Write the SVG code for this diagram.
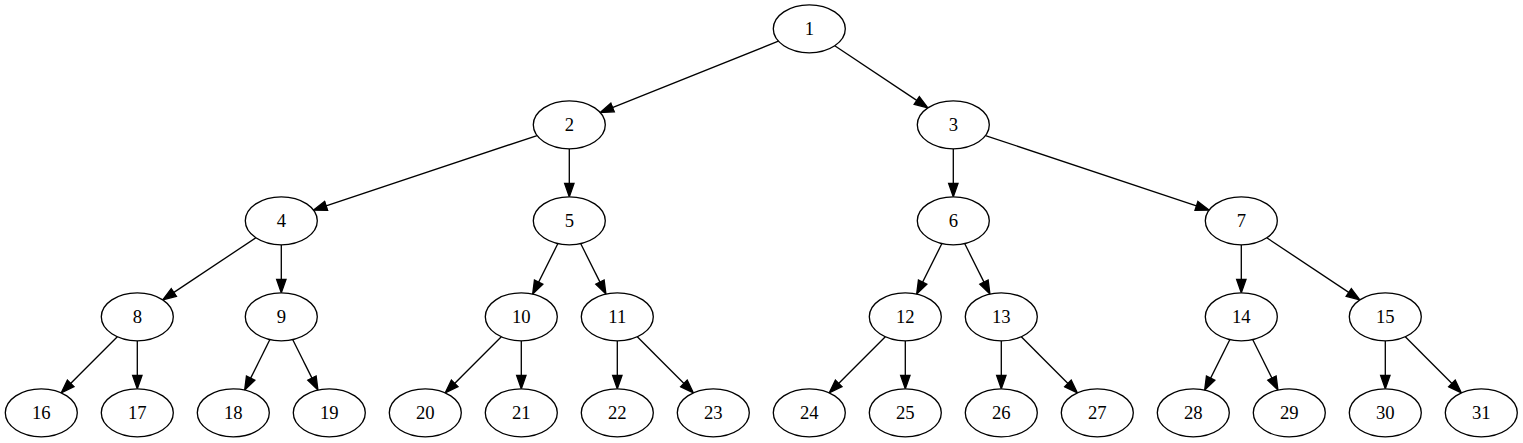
<svg xmlns="http://www.w3.org/2000/svg" width="1523" height="443" viewBox="0 0 1523 443">
<style>
.node ellipse{fill:#fff;stroke:#000;stroke-width:1.33}
.node text{font-family:"Liberation Serif","Times New Roman",serif;font-size:18.67px;text-anchor:middle;fill:#000}
#edges line{stroke:#000;stroke-width:1.33;fill:none;marker-end:url(#arr)}
</style>
<defs>
<marker id="arr" markerUnits="userSpaceOnUse" orient="auto" markerWidth="16" markerHeight="12" viewBox="0 -6 14 12" refX="10.33" refY="0">
<path d="M0,-4.67 L13.33,0 L0,4.67 z" fill="#000" stroke="#000" stroke-width="1.33"/>
</marker>
</defs>
<rect width="1523" height="443" fill="#fff"/>
<g id="edges">
<line x1="778.4" y1="41.16" x2="602.99" y2="111.33"/>
<line x1="834.76" y1="45.77" x2="925.34" y2="106.17"/>
<line x1="537.1" y1="135.53" x2="316.35" y2="209.12"/>
<line x1="569.3" y1="148.8" x2="569.3" y2="193.8"/>
<line x1="953.3" y1="148.8" x2="953.3" y2="193.8"/>
<line x1="985.5" y1="135.53" x2="1206.25" y2="209.12"/>
<line x1="255.84" y1="237.77" x2="165.26" y2="298.17"/>
<line x1="281.3" y1="244.8" x2="281.3" y2="289.8"/>
<line x1="557.92" y1="243.57" x2="534.02" y2="291.35"/>
<line x1="580.68" y1="243.57" x2="604.58" y2="291.35"/>
<line x1="941.92" y1="243.57" x2="918.02" y2="291.35"/>
<line x1="964.68" y1="243.57" x2="988.58" y2="291.35"/>
<line x1="1241.3" y1="244.8" x2="1241.3" y2="289.8"/>
<line x1="1266.76" y1="237.77" x2="1357.34" y2="298.17"/>
<line x1="117.33" y1="336.77" x2="63.39" y2="390.71"/>
<line x1="137.3" y1="340.8" x2="137.3" y2="385.8"/>
<line x1="269.92" y1="339.57" x2="246.02" y2="387.35"/>
<line x1="292.68" y1="339.57" x2="316.58" y2="387.35"/>
<line x1="501.33" y1="336.77" x2="447.39" y2="390.71"/>
<line x1="521.3" y1="340.8" x2="521.3" y2="385.8"/>
<line x1="617.3" y1="340.8" x2="617.3" y2="385.8"/>
<line x1="637.27" y1="336.77" x2="691.21" y2="390.71"/>
<line x1="885.33" y1="336.77" x2="831.39" y2="390.71"/>
<line x1="905.3" y1="340.8" x2="905.3" y2="385.8"/>
<line x1="1001.3" y1="340.8" x2="1001.3" y2="385.8"/>
<line x1="1021.27" y1="336.77" x2="1075.21" y2="390.71"/>
<line x1="1229.92" y1="339.57" x2="1206.02" y2="387.35"/>
<line x1="1252.68" y1="339.57" x2="1276.58" y2="387.35"/>
<line x1="1385.3" y1="340.8" x2="1385.3" y2="385.8"/>
<line x1="1405.27" y1="336.77" x2="1459.21" y2="390.71"/>
</g>
<g id="n1" class="node"><ellipse cx="809.3" cy="28.8" rx="36" ry="24"/><text x="809.3" y="34.8">1</text></g>
<g id="n2" class="node"><ellipse cx="569.3" cy="124.8" rx="36" ry="24"/><text x="569.3" y="130.8">2</text></g>
<g id="n3" class="node"><ellipse cx="953.3" cy="124.8" rx="36" ry="24"/><text x="953.3" y="130.8">3</text></g>
<g id="n4" class="node"><ellipse cx="281.3" cy="220.8" rx="36" ry="24"/><text x="281.3" y="226.8">4</text></g>
<g id="n5" class="node"><ellipse cx="569.3" cy="220.8" rx="36" ry="24"/><text x="569.3" y="226.8">5</text></g>
<g id="n6" class="node"><ellipse cx="953.3" cy="220.8" rx="36" ry="24"/><text x="953.3" y="226.8">6</text></g>
<g id="n7" class="node"><ellipse cx="1241.3" cy="220.8" rx="36" ry="24"/><text x="1241.3" y="226.8">7</text></g>
<g id="n8" class="node"><ellipse cx="137.3" cy="316.8" rx="36" ry="24"/><text x="137.3" y="322.8">8</text></g>
<g id="n9" class="node"><ellipse cx="281.3" cy="316.8" rx="36" ry="24"/><text x="281.3" y="322.8">9</text></g>
<g id="n10" class="node"><ellipse cx="521.3" cy="316.8" rx="36" ry="24"/><text x="521.3" y="322.8">10</text></g>
<g id="n11" class="node"><ellipse cx="617.3" cy="316.8" rx="36" ry="24"/><text x="617.3" y="322.8">11</text></g>
<g id="n12" class="node"><ellipse cx="905.3" cy="316.8" rx="36" ry="24"/><text x="905.3" y="322.8">12</text></g>
<g id="n13" class="node"><ellipse cx="1001.3" cy="316.8" rx="36" ry="24"/><text x="1001.3" y="322.8">13</text></g>
<g id="n14" class="node"><ellipse cx="1241.3" cy="316.8" rx="36" ry="24"/><text x="1241.3" y="322.8">14</text></g>
<g id="n15" class="node"><ellipse cx="1385.3" cy="316.8" rx="36" ry="24"/><text x="1385.3" y="322.8">15</text></g>
<g id="n16" class="node"><ellipse cx="41.3" cy="412.8" rx="36" ry="24"/><text x="41.3" y="418.8">16</text></g>
<g id="n17" class="node"><ellipse cx="137.3" cy="412.8" rx="36" ry="24"/><text x="137.3" y="418.8">17</text></g>
<g id="n18" class="node"><ellipse cx="233.3" cy="412.8" rx="36" ry="24"/><text x="233.3" y="418.8">18</text></g>
<g id="n19" class="node"><ellipse cx="329.3" cy="412.8" rx="36" ry="24"/><text x="329.3" y="418.8">19</text></g>
<g id="n20" class="node"><ellipse cx="425.3" cy="412.8" rx="36" ry="24"/><text x="425.3" y="418.8">20</text></g>
<g id="n21" class="node"><ellipse cx="521.3" cy="412.8" rx="36" ry="24"/><text x="521.3" y="418.8">21</text></g>
<g id="n22" class="node"><ellipse cx="617.3" cy="412.8" rx="36" ry="24"/><text x="617.3" y="418.8">22</text></g>
<g id="n23" class="node"><ellipse cx="713.3" cy="412.8" rx="36" ry="24"/><text x="713.3" y="418.8">23</text></g>
<g id="n24" class="node"><ellipse cx="809.3" cy="412.8" rx="36" ry="24"/><text x="809.3" y="418.8">24</text></g>
<g id="n25" class="node"><ellipse cx="905.3" cy="412.8" rx="36" ry="24"/><text x="905.3" y="418.8">25</text></g>
<g id="n26" class="node"><ellipse cx="1001.3" cy="412.8" rx="36" ry="24"/><text x="1001.3" y="418.8">26</text></g>
<g id="n27" class="node"><ellipse cx="1097.3" cy="412.8" rx="36" ry="24"/><text x="1097.3" y="418.8">27</text></g>
<g id="n28" class="node"><ellipse cx="1193.3" cy="412.8" rx="36" ry="24"/><text x="1193.3" y="418.8">28</text></g>
<g id="n29" class="node"><ellipse cx="1289.3" cy="412.8" rx="36" ry="24"/><text x="1289.3" y="418.8">29</text></g>
<g id="n30" class="node"><ellipse cx="1385.3" cy="412.8" rx="36" ry="24"/><text x="1385.3" y="418.8">30</text></g>
<g id="n31" class="node"><ellipse cx="1481.3" cy="412.8" rx="36" ry="24"/><text x="1481.3" y="418.8">31</text></g>
</svg>
